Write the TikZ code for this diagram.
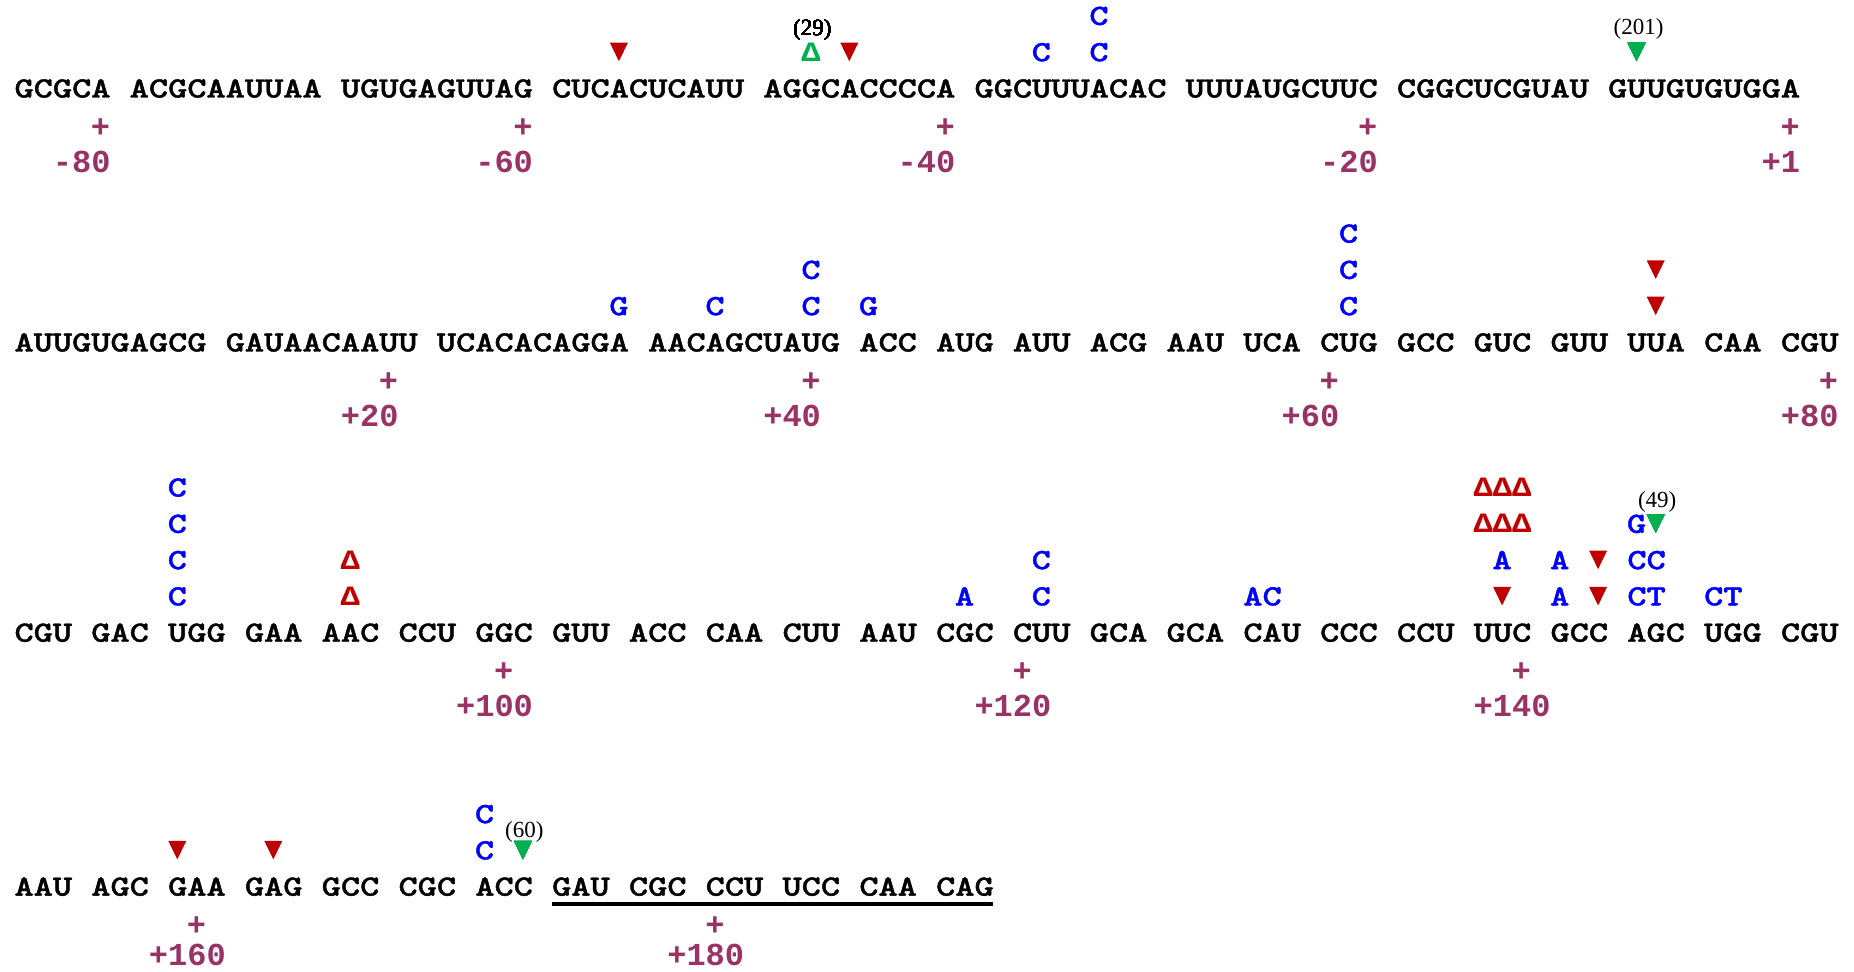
\documentclass[tikz,border=0pt]{standalone}
\usepackage{fontspec}
\usepackage{graphicx}
\newfontfamily\limono{Liberation Mono}
\newfontfamily\liserif{Liberation Serif}
\newfontfamily\seqfont{lmmonolt10-bold.otf}[FakeBold=1.2]
\definecolor{ntblue}{RGB}{0,0,255}
\definecolor{ntred}{RGB}{192,0,0}
\definecolor{ntgreen}{RGB}{0,176,80}
\definecolor{ntnum}{RGB}{153,51,102}
\newcommand\seqtxt[1]{\scalebox{1.2439}[1]{\fontsize{14.7}{17}\selectfont\seqfont #1}}
\newcommand\numtxt[1]{\scalebox{1.0}[1]{\fontsize{16}{18}\selectfont\limono\bfseries #1}}
\newcommand\deltxt[1]{\scalebox{1.1429}[1]{\fontsize{14}{16}\selectfont\limono\bfseries #1}}
\newcommand\colx[1]{(14.1+(#1)*19.2)}
\newcommand\colc[1]{(14.1+(#1+0.5)*19.2)}
\newcommand\liney[1]{(24.94+36.28*(#1))}
\newcommand\downtri[3]{\fill[#3] ({\colc{#1}-9},{\liney{#2}-18.5}) -- ({\colc{#1}+9},{\liney{#2}-18.5}) -- ({\colc{#1}},{\liney{#2}}) -- cycle;}
\tikzset{
  word/.style={inner sep=0pt, anchor=base west},
  ann/.style={inner sep=0pt, anchor=base, text=ntblue},
  annw/.style={inner sep=0pt, anchor=base west, text=ntblue},
  tick/.style={inner sep=0pt, anchor=base, text=ntnum},
  num/.style={inner sep=0pt, anchor=base west, text=ntnum},
  paren/.style={inner sep=0pt, anchor=base, font=\liserif\fontsize{11.5}{13}\selectfont},
}
\begin{document}
\begin{tikzpicture}[x=0.5pt,y=-0.5pt]
\useasboundingbox (0,0) rectangle (1854,972);
% ---- sequence rows
\foreach \ci/\wi [count=\i] in {0/GCGCA,6/ACGCAAUUAA,17/UGUGAGUUAG,28/CUCACUCAUU,39/AGGCACCCCA,50/GGCUUUACAC,61/UUUAUGCUUC,72/CGGCUCGUAU,83/GUUGUGUGGA}
  \node[word] (ra\i) at ({\colx{\ci}},{\liney{2}}) {\seqtxt{\wi}};
\foreach \ci/\wi [count=\i] in {0/AUUGUGAGCG,11/GAUAACAAUU,22/UCACACAGGA,33/AACAGCUAUG,44/ACC,48/AUG,52/AUU,56/ACG,60/AAU,64/UCA,68/CUG,72/GCC,76/GUC,80/GUU,84/UUA,88/CAA,92/CGU}
  \node[word] (rb\i) at ({\colx{\ci}},{\liney{9}}) {\seqtxt{\wi}};
\foreach \ci/\wi [count=\i] in {0/CGU,4/GAC,8/UGG,12/GAA,16/AAC,20/CCU,24/GGC,28/GUU,32/ACC,36/CAA,40/CUU,44/AAU,48/CGC,52/CUU,56/GCA,60/GCA,64/CAU,68/CCC,72/CCU,76/UUC,80/GCC,84/AGC,88/UGG,92/CGU}
  \node[word] (rc\i) at ({\colx{\ci}},{\liney{17}}) {\seqtxt{\wi}};
\foreach \ci/\wi [count=\i] in {0/AAU,4/AGC,8/GAA,12/GAG,16/GCC,20/CGC,24/ACC,28/GAU,32/CGC,36/CCU,40/UCC,44/CAA,48/CAG}
  \node[word] (rd\i) at ({\colx{\ci}},{\liney{24}}) {\seqtxt{\wi}};
% underline
\coordinate (ulA) at ({\colx{28}},904);
\coordinate (ulB) at ({\colx{51}},904);
\draw[line width=2pt] (ulA) -- (ulB);
% ---- ticks and numbers
\foreach \ci/\li [count=\i] in {4/3,26/3,48/3,70/3,92/3,19/10,41/10,68/10,94/10,25/18,52/18,78/18,9/25,36/25}
  \node[tick] (pk\i) at ({\colc{\ci}},{\liney{\li}+4}) {\numtxt{+}};
\foreach \ci/\li/\ti [count=\i] in {2/4/-80,24/4/-60,46/4/-40,68/4/-20,91/4/+1,17/11/+20,39/11/+40,66/11/+60,92/11/+80,23/19/+100,50/19/+120,76/19/+140}
  \node[num] (nb\i) at ({\colx{\ci}},{\liney{\li}+2.5}) {\numtxt{\ti}};
\foreach \ci/\ti [count=\i] in {7/+160,34/+180}
  \node[num] (nd\i) at ({\colx{\ci}},965.5) {\numtxt{\ti}};
% ---- blue substitutions
\foreach \ci/\li/\ti [count=\i] in {53/1/C,56/1/C,56/0/C,31/8/G,36/8/C,41/8/C,41/7/C,44/8/G,69/8/C,69/7/C,69/6/C,8/16/C,8/15/C,8/14/C,8/13/C,49/16/A,53/16/C,53/15/C,77/15/A,80/16/A,80/15/A,84/14/G,24/23/C,24/22/C}
  \node[ann] (bs\i) at ({\colc{\ci}},{\liney{\li}}) {\seqtxt{\ti}};
\foreach \ci/\li/\ti [count=\i] in {64/16/AC,84/16/CT,84/15/CC,88/16/CT}
  \node[annw] (bw\i) at ({\colx{\ci}},{\liney{\li}}) {\seqtxt{\ti}};
% ---- deletions
\node[inner sep=0pt, anchor=base, text=ntgreen] (dg1) at ({\colc{41}},{\liney{1}}) {\deltxt{Δ}};
\node[inner sep=0pt, anchor=base, text=ntred] (dr1) at ({\colc{17}},{\liney{16}}) {\deltxt{Δ}};
\node[inner sep=0pt, anchor=base, text=ntred] (dr2) at ({\colc{17}},{\liney{15}}) {\deltxt{Δ}};
\node[inner sep=0pt, anchor=base west, text=ntred] (dr3) at ({\colx{76}},{\liney{14}}) {\deltxt{ΔΔΔ}};
\node[inner sep=0pt, anchor=base west, text=ntred] (dr4) at ({\colx{76}},{\liney{13}}) {\deltxt{ΔΔΔ}};
% ---- insertion triangles
\foreach \ci/\li in {31/1,43/1,85/8,85/7,77/16,82/16,82/15,8/23,13/23}
  \downtri{\ci}{\li}{ntred}
\foreach \ci/\li in {84/1,85/14,26/23}
  \downtri{\ci}{\li}{ntgreen}
% ---- counts
\node[paren] (c29) at ({\colc{41}+1.5},{\liney{1}-25.8}) {(29)};
\node[paren] (c201) at ({\colc{84}+2},{\liney{1}-26.7}) {(201)};
\node[paren] (c49) at ({\colc{85}+1.5},{\liney{14}-25.4}) {(49)};
\node[paren] (c60) at ({\colc{26}+1.5},{\liney{23}-22}) {(60)};
\end{tikzpicture}
\end{document}
